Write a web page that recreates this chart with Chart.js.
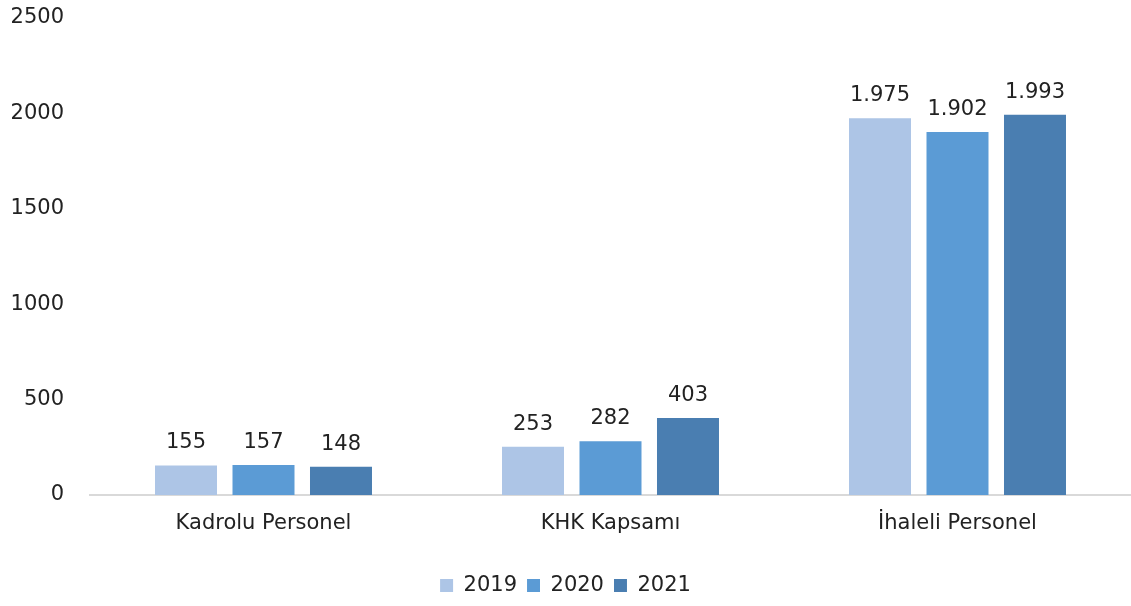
<!DOCTYPE html>
<html>
<head>
<meta charset="utf-8">
<script src="https://cdn.jsdelivr.net/npm/chart.js@4"></script>
<style>
  html, body { margin: 0; padding: 0; background: #fff; }
  #wrap { width: 1131px; height: 606px; }
</style>
</head>
<body>
<div id="wrap"><canvas id="chart"></canvas></div>
<script>
const categories = ['Kadrolu Personel', 'KHK Kapsamı', 'İhaleli Personel'];
const years = ['2019', '2020', '2021'];
const values2019 = [155, 253, 1975];
const values2020 = [157, 282, 1902];
const values2021 = [148, 403, 1993];
const yTicks = [0, 500, 1000, 1500, 2000, 2500];
const colors = ['#adc5e6', '#5b9bd5', '#4a7eb1'];

const FONT = '"DejaVu Sans", sans-serif';
const SIZE = 21;

// Turkish style thousands separator: 1975 -> 1.975
const fmt = v => v.toLocaleString('tr-TR');

const barLabels = {
    id: 'barLabels',
    afterDatasetsDraw(chart) {
        const ctx = chart.ctx;
        ctx.save();
        ctx.font = SIZE + 'px ' + FONT;
        ctx.fillStyle = '#222';
        ctx.textAlign = 'center';
        ctx.textBaseline = 'bottom';
        chart.data.datasets.forEach((ds, i) => {
            const meta = chart.getDatasetMeta(i);
            meta.data.forEach((bar, j) => {
                ctx.fillText(fmt(ds.data[j]), bar.x, bar.y - 12);
            });
        });
        ctx.restore();
    }
};

new Chart(document.getElementById('chart'), {
    type: 'bar',
    data: {
        labels: categories,
        datasets: [
            { label: years[0], data: values2019, backgroundColor: colors[0] },
            { label: years[1], data: values2020, backgroundColor: colors[1] },
            { label: years[2], data: values2021, backgroundColor: colors[2] },
        ],
    },
    options: {
        responsive: true,
        maintainAspectRatio: false,
        animation: false,
        layout: { padding: 0 },
        datasets: {
            bar: { barPercentage: 0.8, categoryPercentage: 0.67 },
        },
        plugins: {
            legend: {
                position: 'bottom',
                labels: {
                    font: { family: FONT, size: SIZE },
                    color: '#222',
                    boxWidth: 13,
                    boxHeight: 13,
                    padding: 10,
                },
            },
            tooltip: { enabled: false },
        },
        scales: {
            x: {
                grid: { display: false },
                border: { display: true, color: '#d9d9d9', width: 2 },
                ticks: { font: { family: FONT, size: SIZE }, color: '#222', padding: 8 },
                afterFit: axis => { axis.height = 70; },
            },
            y: {
                min: 0,
                max: 2500,
                afterBuildTicks: axis => { axis.ticks = yTicks.map(v => ({ value: v })); },
                afterFit: axis => { axis.width = 90; axis.paddingTop = 18; },
                grid: { display: false },
                border: { display: false },
                ticks: {
                    font: { family: FONT, size: SIZE },
                    color: '#222',
                    padding: 18,
                    callback: v => String(v),
                },
            },
        },
    },
    plugins: [barLabels],
});
</script>
</body>
</html>
